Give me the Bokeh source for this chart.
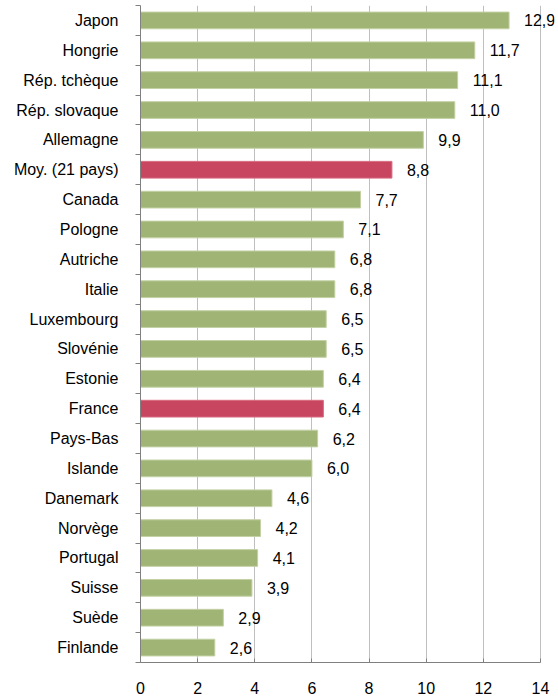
from bokeh.plotting import figure
from bokeh.models import ColumnDataSource, FixedTicker, LabelSet, Range1d
from bokeh.core.properties import value
from bokeh.embed import file_html
from bokeh.resources import INLINE

countries = ["Japon", "Hongrie", "Rép. tchèque", "Rép. slovaque", "Allemagne",
             "Moy. (21 pays)", "Canada", "Pologne", "Autriche", "Italie",
             "Luxembourg", "Slovénie", "Estonie", "France", "Pays-Bas",
             "Islande", "Danemark", "Norvège", "Portugal", "Suisse", "Suède",
             "Finlande"]
values = [12.9, 11.7, 11.1, 11.0, 9.9, 8.8, 7.7, 7.1, 6.8, 6.8, 6.5, 6.5,
          6.4, 6.4, 6.2, 6.0, 4.6, 4.2, 4.1, 3.9, 2.9, 2.6]
highlight = ["Moy. (21 pays)", "France"]
x_ticks = [0, 2, 4, 6, 8, 10, 12, 14]

GREEN = "#A0B476"
RED = "#C94661"
FONT = "Liberation Sans"

n = len(countries)
ypos = [n - 1 - i for i in range(n)]
colors = [RED if c in highlight else GREEN for c in countries]
lines = ["#D66C80" if c in highlight else "#C3D1A4" for c in countries]
labels = [f"{v:.1f}".replace(".", ",") for v in values]

src = ColumnDataSource(dict(y=ypos, v=values, c=colors, lc=lines, lab=labels))

# frame: 400 px for 0..14, extra room on the right for the last label
frame_w = 558 - 140 - 4
x_end = x_ticks[-1] * frame_w / 400.0

p = figure(width=558, height=699, output_backend="svg", toolbar_location=None,
           x_range=Range1d(0, x_end), y_range=Range1d(-0.5, n - 0.5),
           min_border_left=140, min_border_right=4, min_border_top=5,
           min_border_bottom=37)
p.outline_line_color = None
p.background_fill_color = "white"

p.hbar(y="y", right="v", left=0, height=0.56, fill_color="c", line_color="lc",
       line_width=1, source=src)

lbl = LabelSet(x="v", y="y", text="lab", source=src, x_offset=15,
               text_baseline="middle", text_align="left",
               text_font=value(FONT), text_font_size=value("16px"),
               text_color="#000000")
p.add_layout(lbl)

# x axis
p.xaxis.bounds = (x_ticks[0], x_ticks[-1])
p.xaxis.ticker = FixedTicker(ticks=x_ticks)
p.xaxis.axis_line_color = "#808080"
p.xaxis.major_tick_line_color = "#808080"
p.xaxis.major_tick_in = 4
p.xaxis.major_tick_out = 0
p.xaxis.minor_tick_line_color = None
p.xaxis.major_label_text_font = FONT
p.xaxis.major_label_text_font_size = "16px"
p.xaxis.major_label_text_color = "#000000"
p.xaxis.major_label_standoff = 19

# y axis
p.yaxis.ticker = FixedTicker(ticks=ypos,
                             minor_ticks=[i - 0.5 for i in range(n + 1)])
p.yaxis.major_label_overrides = {y: c for y, c in zip(ypos, countries)}
p.yaxis.axis_line_color = "#808080"
p.yaxis.major_tick_line_color = None
p.yaxis.minor_tick_line_color = "#808080"
p.yaxis.minor_tick_out = 5
p.yaxis.minor_tick_in = 0
p.yaxis.major_label_text_font = FONT
p.yaxis.major_label_text_font_size = "16px"
p.yaxis.major_label_text_color = "#000000"
p.yaxis.major_label_standoff = 16

p.xgrid.ticker = FixedTicker(ticks=x_ticks[1:])
p.xgrid.grid_line_color = "#BFBFBF"
p.ygrid.grid_line_color = None

open("out.html", "w").write(file_html(p, INLINE))
